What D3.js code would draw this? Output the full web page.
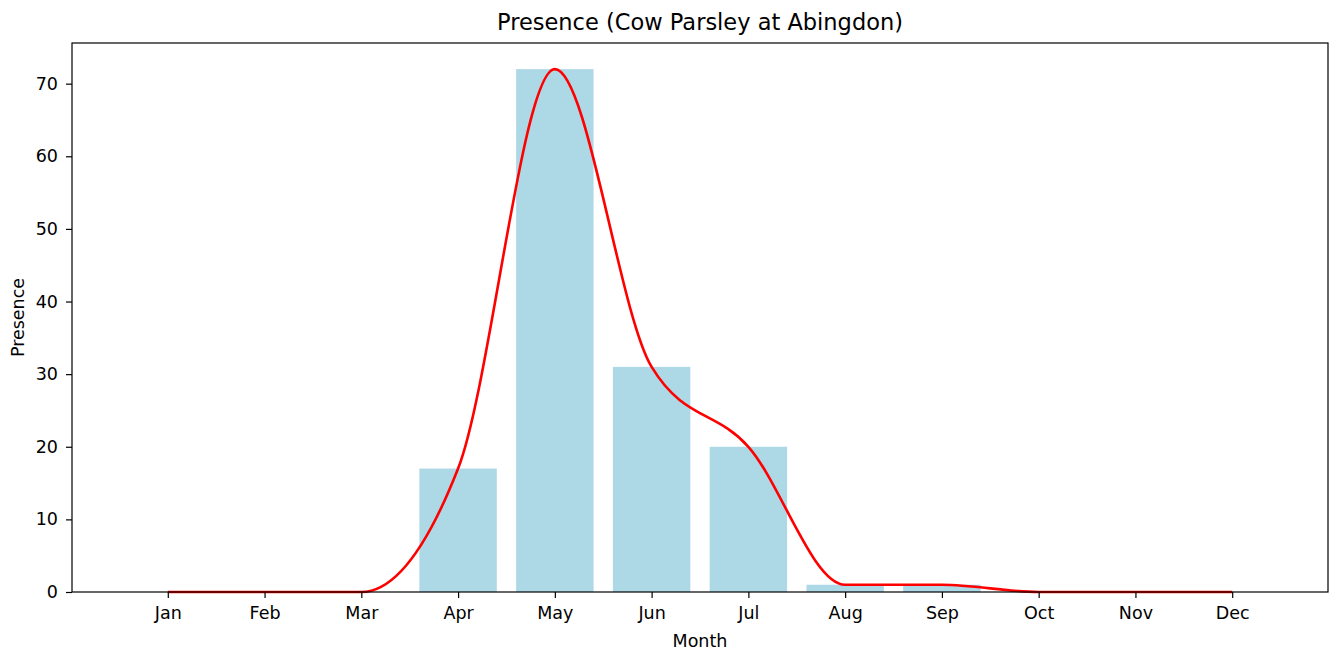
<!DOCTYPE html>
<html>
<head>
<meta charset="utf-8">
<script src="https://cdn.jsdelivr.net/npm/d3@7"></script>
<style>
  html, body { margin: 0; padding: 0; background: #fff; }
  svg { display: block; font-family: "DejaVu Sans", sans-serif; }
</style>
</head>
<body>
<svg id="chart" width="1330" height="651"></svg>
<script>
// Monthly presence counts
const months = ["Jan", "Feb", "Mar", "Apr", "May", "Jun", "Jul", "Aug", "Sep", "Oct", "Nov", "Dec"];
const presence = [0, 0, 0, 17, 72, 31, 20, 1, 1, 0, 0, 0];
const yTicks = [0, 10, 20, 30, 40, 50, 60, 70];

const W = 1330, H = 651;
const margin = { left: 72, right: 2, top: 43, bottom: 59 };
const plotW = W - margin.left - margin.right;
const plotH = H - margin.top - margin.bottom;

const svg = d3.select("#chart");
const g = svg.append("g").attr("transform", `translate(${margin.left},${margin.top})`);

// Index scale with padding like a bar plot: bars of width 0.8, 5% margins
const x = d3.scaleLinear().domain([-0.99, 11.99]).range([0, plotW]);
const y = d3.scaleLinear().domain([0, 75.6]).range([plotH, 0]);
const barW = x(0.8) - x(0);

// Bars
g.selectAll("rect.bar")
  .data(presence)
  .enter().append("rect")
  .attr("class", "bar")
  .attr("x", (d, i) => x(i - 0.4))
  .attr("y", d => y(d))
  .attr("width", barW)
  .attr("height", d => y(0) - y(d))
  .attr("fill", "#add8e6");

// Smoothed trend line through the monthly values
const line = d3.line()
  .x((d, i) => x(i))
  .y(d => y(d))
  .curve(d3.curveMonotoneX);

g.append("path")
  .datum(presence)
  .attr("d", line)
  .attr("fill", "none")
  .attr("stroke", "red")
  .attr("stroke-width", 2.6);

// Axes
const xAxis = d3.axisBottom(x)
  .tickValues(d3.range(months.length))
  .tickFormat(i => months[i])
  .tickSizeOuter(0)
  .tickSize(6)
  .tickPadding(9);
const yAxis = d3.axisLeft(y)
  .tickValues(yTicks)
  .tickSizeOuter(0)
  .tickSize(6)
  .tickPadding(8);

const gx = g.append("g").attr("transform", `translate(0,${plotH})`).call(xAxis);
const gy = g.append("g").call(yAxis);
[gx, gy].forEach(a => {
  a.select(".domain").remove();
  a.selectAll("text").attr("font-size", 17.5).attr("fill", "#000").attr("font-family", "DejaVu Sans, sans-serif");
  a.selectAll("line").attr("stroke", "#000").attr("stroke-width", 1.2);
});

// Frame
g.append("rect")
  .attr("x", 0).attr("y", 0)
  .attr("width", plotW).attr("height", plotH)
  .attr("fill", "none").attr("stroke", "#000").attr("stroke-width", 1.2);

// Title and axis labels
svg.append("text")
  .attr("x", margin.left + plotW / 2).attr("y", 30)
  .attr("text-anchor", "middle").attr("font-size", 22.5)
  .text("Presence (Cow Parsley at Abingdon)");

svg.append("text")
  .attr("x", margin.left + plotW / 2).attr("y", 647)
  .attr("text-anchor", "middle").attr("font-size", 17.5)
  .text("Month");

svg.append("text")
  .attr("transform", `translate(24,${margin.top + plotH / 2}) rotate(-90)`)
  .attr("text-anchor", "middle").attr("font-size", 17.5)
  .text("Presence");
</script>
</body>
</html>
